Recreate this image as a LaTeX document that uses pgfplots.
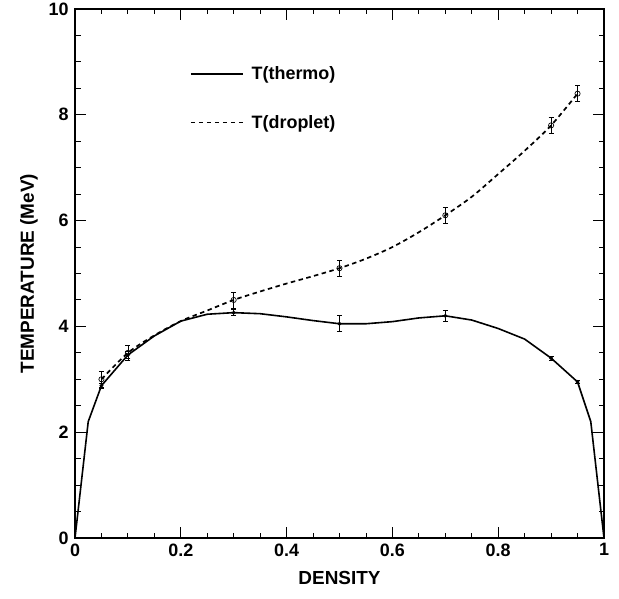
\documentclass[border=0pt]{standalone}
\usepackage{fontspec}
\setmainfont{Liberation Sans}
\usepackage{pgfplots}
\pgfplotsset{compat=1.18}
\begin{document}
\begin{tikzpicture}
\begin{axis}[
  scale only axis, width=529bp, height=529bp,
  xmin=0, xmax=1, ymin=0, ymax=10,
  xtick={0,0.2,0.4,0.6,0.8,1}, ytick={0,2,4,6,8,10},
  xticklabels={0,0.2,0.4,0.6,0.8,1},
  minor x tick num=3, minor y tick num=3,
  tick align=inside, tick pos=both,
  major tick length=11bp, minor tick length=5.5bp,
  every tick/.style={black, line width=0.9bp},
  axis line style={line width=1.8bp},
  /pgf/number format/assume math mode=true,
  ticklabel style={font=\fontsize{18}{21}\selectfont\bfseries},
  xticklabel style={yshift=-2bp},
  yticklabel style={xshift=-3bp},
  xlabel={DENSITY}, ylabel={TEMPERATURE (MeV)},
  label style={font=\fontsize{19}{22}\selectfont\bfseries},
  xlabel style={yshift=-8bp},
  ylabel style={yshift=4bp},
  legend style={draw=none, fill=none, at={(axis cs:0.217,8.95)}, anchor=north west,
    font=\fontsize{18}{21}\selectfont\bfseries, row sep=30bp,
    legend cell align=left, inner sep=0pt,
    nodes={inner xsep=8bp}},
  legend image code/.code={\draw[#1] (0bp,0bp) -- (52bp,0bp);},
  clip=false,
]
% T(thermo) curve
\addplot[black, line width=1.6bp] coordinates {
 (0,0) (0.025,2.2) (0.05,2.88) (0.1,3.46) (0.15,3.82) (0.2,4.1) (0.25,4.23)
 (0.3,4.26) (0.35,4.24) (0.4,4.18) (0.45,4.11) (0.5,4.05) (0.55,4.05)
 (0.6,4.09) (0.65,4.16) (0.7,4.2) (0.75,4.12) (0.8,3.96) (0.85,3.76)
 (0.9,3.4) (0.95,2.95) (0.975,2.2) (1,0)};
\addlegendentry{T(thermo)}
% T(droplet) curve
\addplot[black, line width=1.7bp, dash pattern=on 4.5bp off 3.5bp, smooth] coordinates {
 (0.05,3.0) (0.1,3.5) (0.15,3.83) (0.2,4.1) (0.25,4.3) (0.3,4.5) (0.35,4.66)
 (0.4,4.81) (0.45,4.95) (0.5,5.1) (0.55,5.28) (0.6,5.5) (0.65,5.78)
 (0.7,6.1) (0.75,6.45) (0.8,6.88) (0.85,7.32) (0.9,7.8) (0.95,8.4)};
\addlegendentry{T(droplet)}
% thermo points with error bars
\addplot[black, only marks, mark=*, mark size=1.6bp, line width=0.7bp,
  error bars/.cd, y dir=both, y explicit,
  error bar style={line width=0.7bp},
  error mark options={rotate=90, mark size=2.5bp, line width=0.7bp}]
  coordinates {
 (0.05,2.88) +- (0,0.05) (0.1,3.46) +- (0,0.06) (0.3,4.26) +- (0,0.06)
 (0.5,4.05) +- (0,0.15) (0.7,4.2) +- (0,0.1) (0.9,3.4) +- (0,0.04)
 (0.95,2.95) +- (0,0.03)};
% droplet points with error bars
\addplot[black, only marks, mark=o, mark size=2.6bp, line width=0.7bp,
  mark options={fill=white},
  error bars/.cd, y dir=both, y explicit,
  error bar style={line width=0.7bp},
  error mark options={rotate=90, mark size=2.5bp, line width=0.7bp}]
  coordinates {
 (0.05,3.0) +- (0,0.15) (0.1,3.5) +- (0,0.15) (0.3,4.5) +- (0,0.15)
 (0.5,5.1) +- (0,0.15) (0.7,6.1) +- (0,0.15) (0.9,7.8) +- (0,0.15)
 (0.95,8.4) +- (0,0.15)};
\end{axis}
\pgfresetboundingbox
\path (-75bp,-61bp) rectangle (544bp,538bp);
\end{tikzpicture}
\end{document}
